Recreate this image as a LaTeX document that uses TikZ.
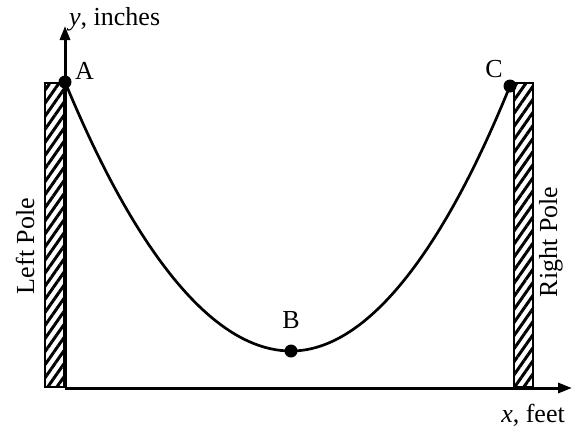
\documentclass[tikz,border=0pt]{standalone}
\usepackage{fontspec}
\setmainfont{Liberation Serif}
\usetikzlibrary{arrows.meta,positioning,patterns.meta}

\begin{document}
\begin{tikzpicture}[
  x=1pt, y=-1pt,
  font=\fontsize{26}{31}\selectfont,
  pole/.style={draw=black, line width=2pt, outer sep=0pt, inner sep=0pt,
               minimum width=19pt, minimum height=304pt,
               pattern={Lines[angle=55, distance=7.5pt, line width=3pt]}},
  axis/.style={-{Triangle[length=14pt, width=10pt]}, line width=3pt},
  cable/.style={line width=2.7pt},
  dot/.style={circle, fill=black, inner sep=0pt, minimum size=13pt},
  lbl/.style={inner sep=0pt},
]
\useasboundingbox (0,0) rectangle (579,429);

% ---------------- axes ---------------------------------------------
\coordinate (origin) at (65,388);
\coordinate (ytip) at (65,26);
\coordinate (xtip) at (572,388);

% ---------------- poles --------------------------------------------
\node[pole, anchor=south east] (lpole) at ([shift={(-1,-1)}]origin) {};
\node[pole, anchor=south west] (rpole) at (514,387) {};

\draw[axis] (origin) -- (ytip);
\draw[axis] (origin) -- (xtip);

% ---------------- cable --------------------------------------------
\node[dot] (ptA) at (65,82) {};
\node[dot] (ptB) at (291,351) {};
\node[dot] (ptC) at (510,86) {};
\draw[cable] (ptA.center) parabola bend (ptB.center) (ptC.center);

% ---------------- labels -------------------------------------------
\node[lbl, anchor=base west] (labA) at ([shift={(10,-3)}]ptA.center) {A};
\node[lbl, anchor=base] (labB) at ([shift={(0,-23)}]ptB.center) {B};
\node[lbl, anchor=base east] (labC) at ([shift={(-7,-9)}]ptC.center) {C};

\node[lbl, anchor=base west] (ylab) at ([shift={(4,-1)}]ytip) {\textit{y}, inches};
\node[lbl, anchor=base east] (xlab) at ([shift={(-7,34)}]xtip) {\textit{x}, feet};

\node[lbl, rotate=90] (lname) at (25,246) {Left Pole};
\node[lbl, rotate=90] (rname) at (551,242) {Right Pole};

\end{tikzpicture}
\end{document}
